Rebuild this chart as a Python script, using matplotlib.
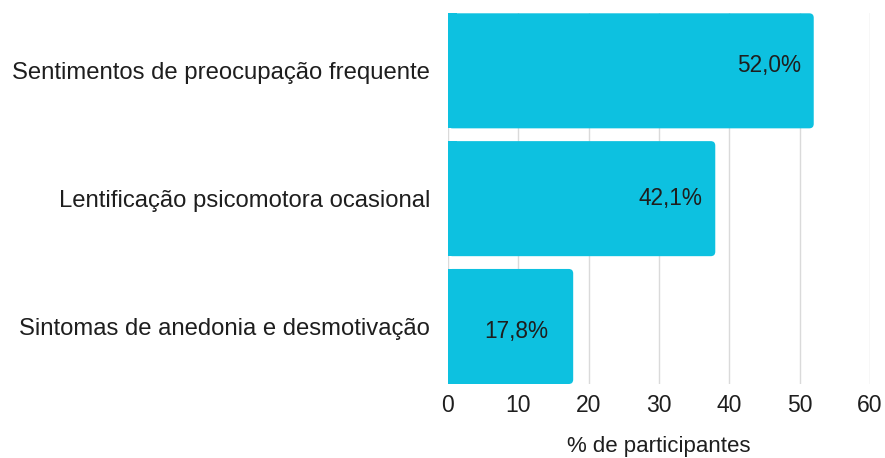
import matplotlib
matplotlib.use("Agg")
import matplotlib.pyplot as plt
from matplotlib.patches import FancyBboxPatch, Rectangle

# data
categories = [
    "Sentimentos de preocupação frequente",
    "Lentificação psicomotora ocasional",
    "Sintomas de anedonia e desmotivação",
]
bar_values = [52.0, 38.0, 17.8]          # drawn bar lengths
value_labels = ["52,0%", "42,1%", "17,8%"]  # printed labels
x_ticks = [0, 10, 20, 30, 40, 50, 60]
x_label = "% de participantes"

BAR_COLOR = "#0DC1E0"
TEXT_COLOR = "#1E1E1E"
GRID_COLOR = "#DADADA"
FONT = "Liberation Sans"
FS = 16

plt.rcParams["font.family"] = [FONT, "DejaVu Sans"]

W, H = 885, 458
fig = plt.figure(figsize=(W / 100, H / 100), dpi=100)
left, right, top, bottom = 448, 870, 13.3, 384
ax = fig.add_axes([left / W, 1 - bottom / H, (right - left) / W, (bottom - top) / H])

ax.set_xlim(0, 60)
ax.set_ylim(2.45, -0.45)
bar_h = 0.9

# pixel scale to get round corners
px_x = (right - left) / 60.0
px_y = (bottom - top) / 2.9
r_px = 4.5
r = r_px / px_x
aspect = px_x / px_y

label_dx = [-13, -13, -25]   # px from bar end to label right edge
label_dy = [5, 0, -4.6]      # px upward shift

for i, (v, lab) in enumerate(zip(bar_values, value_labels)):
    y0 = i - bar_h / 2
    box = FancyBboxPatch((0, y0), v, bar_h,
                         boxstyle=f"round,pad=0,rounding_size={r}",
                         mutation_aspect=aspect,
                         facecolor=BAR_COLOR, edgecolor="none", zorder=3)
    ax.add_patch(box)
    ax.add_patch(Rectangle((0, y0), min(2 * r, v), bar_h,
                           facecolor=BAR_COLOR, edgecolor="none", zorder=3))
    ax.annotate(lab, xy=(v, i), xytext=(label_dx[i], label_dy[i]),
                textcoords="offset pixels", ha="right", va="center",
                fontsize=FS + 0.3, color=TEXT_COLOR, zorder=4)

ax.set_xticks(x_ticks)
ax.set_xticklabels([str(t) for t in x_ticks], fontsize=FS + 0.5, color=TEXT_COLOR)
ax.set_yticks(range(len(categories)))
ax.set_yticklabels(categories, fontsize=17.2, color=TEXT_COLOR)
ax.tick_params(axis="both", length=0)
ax.tick_params(axis="y", pad=13)
ax.tick_params(axis="x", pad=7)

ax.grid(axis="x", color=GRID_COLOR, linewidth=1, zorder=0)
ax.set_axisbelow(True)
for s in ax.spines.values():
    s.set_visible(False)

ax.set_xlabel(x_label, fontsize=FS, color=TEXT_COLOR, labelpad=14)

fig.savefig("out.png", dpi=100, facecolor="white")
